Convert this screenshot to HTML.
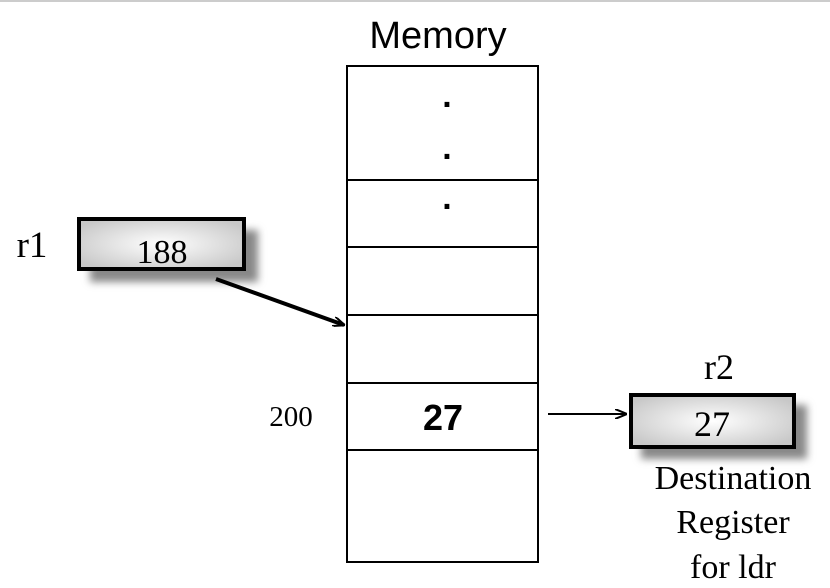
<!DOCTYPE html>
<html><head><meta charset="utf-8"><style>
body{margin:0;background:#fff;width:830px;height:588px;overflow:hidden}
svg{display:block}
.serif{font-family:"Liberation Serif",serif}
.sans{font-family:"Liberation Sans",sans-serif}
</style></head><body>
<svg width="830" height="588">
<defs>
<radialGradient id="g" cx="50%" cy="50%" r="60%"><stop offset="0" stop-color="#fff"/><stop offset="1" stop-color="#c8c8c8"/></radialGradient>
<filter id="sh" x="-20%" y="-40%" width="150%" height="200%"><feGaussianBlur stdDeviation="4"/></filter>
<marker id="ah" markerWidth="12" markerHeight="10" refX="11" refY="5" orient="auto" markerUnits="userSpaceOnUse"><path d="M0,0 L12,5 L0,10" fill="none" stroke="#000" stroke-width="2"/></marker>
</defs>
<line x1="0" y1="1" x2="830" y2="1" stroke="#ccc" stroke-width="2"/>
<text x="438" y="48" class="sans" font-size="38" text-anchor="middle">Memory</text>
<g stroke="#000" stroke-width="2" fill="none">
<rect x="347" y="66" width="191" height="496"/>
<line x1="347" y1="180" x2="538" y2="180"/>
<line x1="347" y1="247" x2="538" y2="247"/>
<line x1="347" y1="315" x2="538" y2="315"/>
<line x1="347" y1="383" x2="538" y2="383"/>
<line x1="347" y1="450" x2="538" y2="450"/>
</g>
<g class="sans" font-size="34" font-weight="bold" text-anchor="middle">
<text x="447" y="107">.</text><text x="447" y="159">.</text><text x="447" y="209">.</text>
</g>
<text x="443" y="430" class="sans" font-size="36" font-weight="bold" text-anchor="middle">27</text>
<text x="291" y="426" class="serif" font-size="29" text-anchor="middle">200</text>
<text x="32" y="257" class="serif" font-size="37" text-anchor="middle">r1</text>
<rect x="90" y="230" width="168" height="52" fill="#888" filter="url(#sh)"/>
<rect x="79" y="219" width="165" height="50" fill="url(#g)" stroke="#000" stroke-width="4"/>
<text x="162" y="263" class="serif" font-size="34" text-anchor="middle">188</text>
<line x1="216" y1="279" x2="344" y2="325" stroke="#000" stroke-width="4" marker-end="url(#ah)"/>
<text x="719" y="379" class="serif" font-size="36" text-anchor="middle">r2</text>
<rect x="641" y="405" width="166" height="54" fill="#888" filter="url(#sh)"/>
<rect x="631" y="395" width="163" height="52" fill="url(#g)" stroke="#000" stroke-width="4"/>
<text x="712" y="436" class="serif" font-size="36" text-anchor="middle">27</text>
<line x1="548" y1="414" x2="626" y2="414" stroke="#000" stroke-width="2" marker-end="url(#ah)"/>
<g class="serif" font-size="34" text-anchor="middle">
<text x="733" y="489">Destination</text><text x="733" y="533">Register</text><text x="733" y="578">for ldr</text>
</g>
</svg>
</body></html>
